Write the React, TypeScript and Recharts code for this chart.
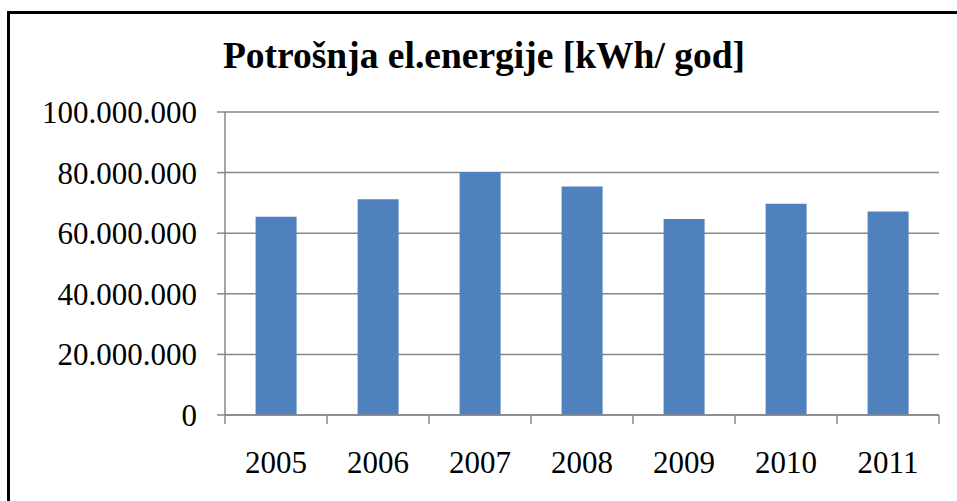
import React from 'react';
import { BarChart, Bar, XAxis, YAxis, CartesianGrid } from 'recharts';

const years = ['2005', '2006', '2007', '2008', '2009', '2010', '2011'];
const consumption = [65400000, 71200000, 80200000, 75400000, 64700000, 69700000, 67200000];
const yTicks = [0, 20000000, 40000000, 60000000, 80000000, 100000000];
const title = 'Potrošnja el.energije [kWh/ god]';

const data = years.map((y, i) => ({ year: y, value: consumption[i] }));

const fmt = (n: number) => String(n).replace(/\B(?=(\d{3})+(?!\d))/g, '.');

const FONT = '"Liberation Serif", "Times New Roman", serif';
const GRID = '#878787';
const CHART_W = 957;
const MARGIN_L = 225;
const MARGIN_R = 18;
const TICK_MARGIN = 36;
const TICK_LEN = 9;

const XTick = (props: any) => {
  const { x, y, payload, index } = props;
  const band = (CHART_W - MARGIN_L - MARGIN_R) / years.length;
  const axisY = y - TICK_MARGIN;
  const isLast = index === years.length - 1;
  return (
    <g>
      <line x1={x - band / 2} x2={x - band / 2} y1={axisY} y2={axisY + TICK_LEN} stroke={GRID} strokeWidth={1.5} />
      {isLast && (
        <line x1={x + band / 2} x2={x + band / 2} y1={axisY} y2={axisY + TICK_LEN} stroke={GRID} strokeWidth={1.5} />
      )}
      <text x={x} y={y} dy="0.71em" textAnchor="middle" fill="#000" fontSize={31} fontFamily={FONT}>
        {payload.value}
      </text>
    </g>
  );
};

export default function App() {
  return (
    <div style={{ position: 'absolute', left: 0, top: 0, width: 957, height: 501, background: '#fff', overflow: 'hidden' }}>
      <div
        style={{
          position: 'absolute',
          left: 7,
          top: 11,
          width: 980,
          height: 600,
          borderLeft: '3px solid #000',
          borderTop: '3px solid #000',
          boxSizing: 'border-box',
        }}
      />
      <BarChart
        width={CHART_W}
        height={501}
        data={data}
        margin={{ top: 112, right: MARGIN_R, left: 0, bottom: 0 }}
        barCategoryGap="30%"
        style={{ position: 'absolute', left: 0, top: 0, fontFamily: FONT }}
      >
        <CartesianGrid horizontal vertical={false} stroke={GRID} strokeWidth={1.5} />
        <XAxis
          dataKey="year"
          height={86}
          stroke={GRID}
          strokeWidth={1.5}
          tickLine={false}
          tickSize={0}
          tickMargin={TICK_MARGIN}
          tick={<XTick />}
          interval={0}
        />
        <YAxis
          width={MARGIN_L}
          domain={[0, 100000000]}
          ticks={yTicks}
          tickFormatter={fmt}
          stroke={GRID}
          strokeWidth={1.5}
          tickSize={8}
          tickMargin={20}
          tick={{ fill: '#000', fontSize: 31, fontFamily: FONT }}
          interval={0}
        />
        <Bar dataKey="value" fill="#4F81BD" isAnimationActive={false} />
      </BarChart>
      <svg width={957} height={501} style={{ position: 'absolute', left: 0, top: 0, pointerEvents: 'none' }}>
        <text x={484} y={68} textAnchor="middle" fontFamily={FONT} fontWeight="bold" fontSize={37.5} fill="#000">
          {title}
        </text>
      </svg>
    </div>
  );
}
